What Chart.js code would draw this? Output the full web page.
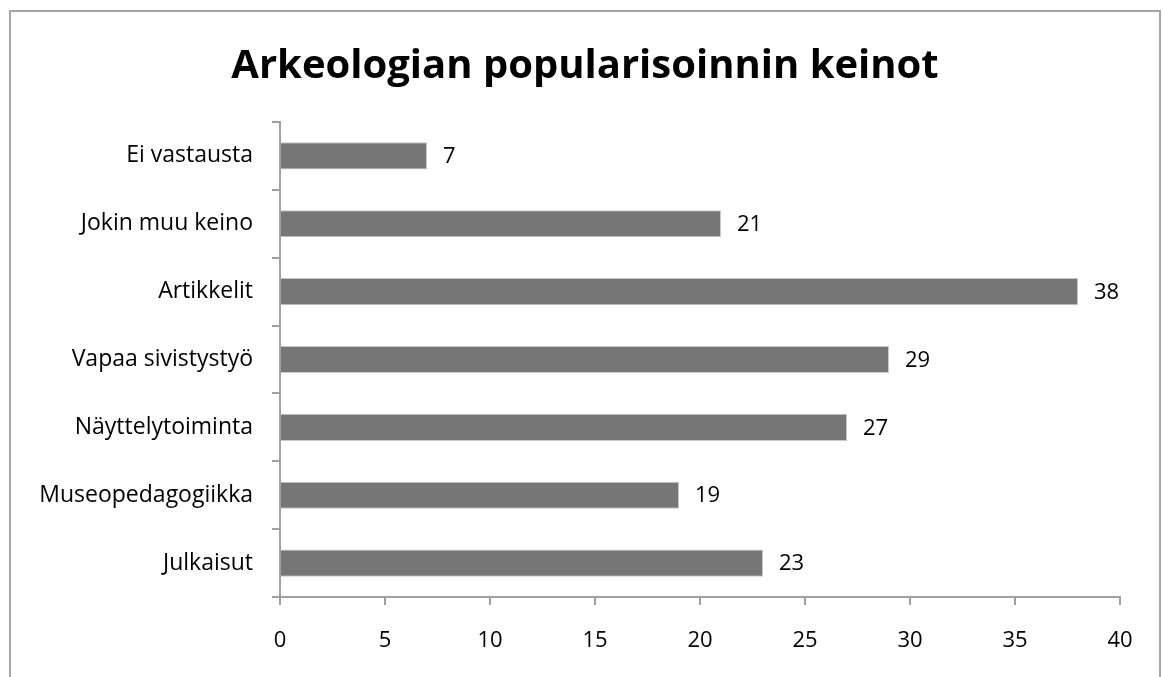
<!DOCTYPE html>
<html>
<head>
<meta charset="utf-8">
<script src="https://cdn.jsdelivr.net/npm/chart.js@4"></script>
<style>
html,body{margin:0;padding:0;background:#fff;}
#wrap{position:relative;width:1163px;height:677px;}
</style>
</head>
<body>
<div id="wrap"><canvas id="c" width="1163" height="677"></canvas></div>
<script>
const titleText = "Arkeologian popularisoinnin keinot";
const categories = ["Ei vastausta","Jokin muu keino","Artikkelit","Vapaa sivistystyö","Näyttelytoiminta","Museopedagogiikka","Julkaisut"];
const values = [7,21,38,29,27,19,23];
const xTicks = [0,5,10,15,20,25,30,35,40];

const FONT = "'Open Sans', Lato, sans-serif";

const framePlugin = {
  id: 'frame',
  beforeDraw(chart){
    const ctx = chart.ctx;
    ctx.save();
    ctx.fillStyle = '#fff';
    ctx.fillRect(0,0,chart.width,chart.height);
    ctx.strokeStyle = '#a6a6a6';
    ctx.lineWidth = 2;
    ctx.strokeRect(10,11,1150,720);
    ctx.fillStyle = '#000';
    ctx.font = "bold 40px " + FONT;
    ctx.textAlign = 'center';
    ctx.textBaseline = 'alphabetic';
    ctx.fillText(titleText, 585, 78);
    ctx.restore();
  },
  afterDatasetsDraw(chart){
    const ctx = chart.ctx;
    const meta = chart.getDatasetMeta(0);
    ctx.save();
    ctx.fillStyle = '#000';
    ctx.font = "22px " + FONT;
    ctx.textAlign = 'left';
    ctx.textBaseline = 'middle';
    meta.data.forEach((bar,i)=>{
      ctx.fillText(String(values[i]), bar.x + 16, bar.y + 1);
    });
    ctx.restore();
  }
};

new Chart(document.getElementById('c'), {
  type: 'bar',
  data: {
    labels: categories,
    datasets: [{
      data: values,
      backgroundColor: '#767676',
      borderColor: '#c8c8c8',
      borderWidth: 1,
      categoryPercentage: 1,
      barPercentage: 0.4
    }]
  },
  options: {
    indexAxis: 'y',
    responsive: false,
    animation: false,
    layout: { padding: { left: 0, right: 43, top: 122, bottom: 0 } },
    plugins: { legend: { display: false }, title: { display: false }, tooltip: { enabled: false } },
    scales: {
      x: {
        min: 0, max: 40,
        afterBuildTicks(scale){ scale.ticks = xTicks.map(v=>({value:v})); },
        afterFit(scale){ scale.height = 80; },
        grid: { drawOnChartArea: false, drawTicks: true, tickLength: 8, color: '#a0a0a0', lineWidth: 2 },
        border: { display: true, color: '#a0a0a0', width: 2 },
        ticks: { color: '#000', font: { size: 22, family: FONT }, padding: 23 }
      },
      y: {
        afterFit(scale){ scale.width = 280; },
        grid: { drawOnChartArea: false, drawTicks: true, tickLength: 8, color: '#a0a0a0', lineWidth: 2, offset: true },
        border: { display: true, color: '#a0a0a0', width: 2 },
        ticks: { color: '#000', font: { size: 23, family: FONT }, padding: 19 }
      }
    }
  },
  plugins: [framePlugin]
});
</script>
</body>
</html>
